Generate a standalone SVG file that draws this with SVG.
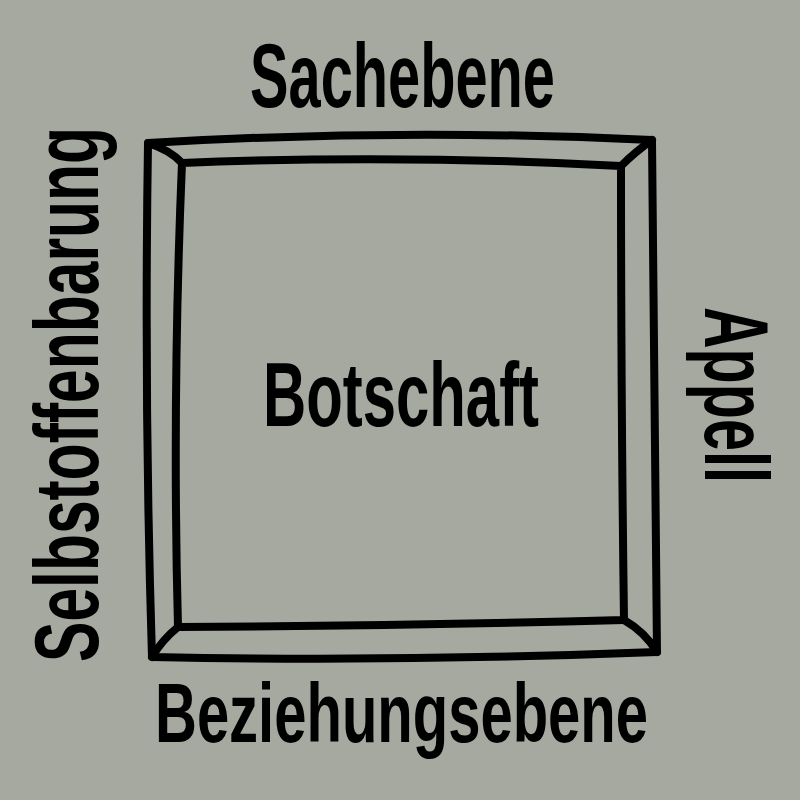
<svg xmlns="http://www.w3.org/2000/svg" width="800" height="800" viewBox="0 0 800 800">
<style>
.bg{fill:#a5a99f}
.frame{fill:none;stroke:#000;stroke-width:8;stroke-linecap:round;stroke-linejoin:round}
.lbl{font-family:"Liberation Sans Narrow","Liberation Sans",Arial,sans-serif;font-weight:bold;fill:#000}
</style>
<rect class="bg" x="0" y="0" width="800" height="800"/>
<g id="connectors">
</g>
<g id="frame">
<path class="frame" d="M148,143 Q400,128 652,140 Q655,400 657,652 Q400,662 152,657 Q144,400 148,143 Z"/>
<path class="frame" d="M182,163 Q400,154 621,166 Q621,400 624,620 Q400,626 178,627 Q172,400 182,163 Z"/>
<path class="frame" d="M148,143 Q170,150 182,163"/>
<path class="frame" d="M652,140 Q635,152 621,166"/>
<path class="frame" d="M624,620 Q645,632 657,652"/>
<path class="frame" d="M178,627 Q162,640 152,657"/>
</g>
<g id="node-botschaft">
<text class="lbl" x="263" y="426" font-size="90" textLength="276" lengthAdjust="spacingAndGlyphs">Botschaft</text>
</g>
<g id="node-sachebene">
<text class="lbl" x="250" y="107" font-size="90" textLength="305" lengthAdjust="spacingAndGlyphs">Sachebene</text>
</g>
<g id="node-beziehungsebene">
<text class="lbl" x="155" y="742" font-size="84" textLength="493" lengthAdjust="spacingAndGlyphs">Beziehungsebene</text>
</g>
<g id="node-selbstoffenbarung">
<text class="lbl" transform="translate(98,662) rotate(-90)" x="0" y="0" font-size="90" textLength="535" lengthAdjust="spacingAndGlyphs">Selbstoffenbarung</text>
</g>
<g id="node-appell">
<text class="lbl" transform="translate(705,307) rotate(90)" x="0" y="0" font-size="90" textLength="176" lengthAdjust="spacingAndGlyphs">Appell</text>
</g>
</svg>
